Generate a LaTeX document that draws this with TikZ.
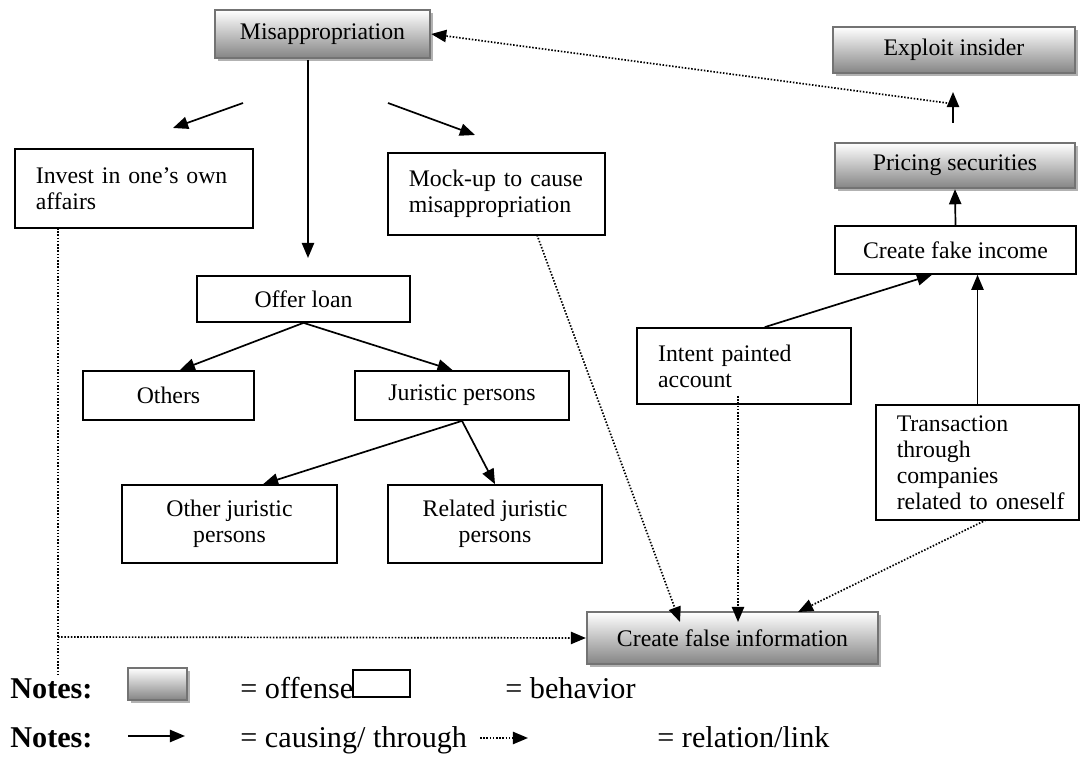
\documentclass[tikz,border=0pt]{standalone}
\usepackage{fontspec}
\setmainfont{Liberation Serif}
\usetikzlibrary{arrows.meta, shadows}

\begin{document}
\begin{tikzpicture}[x=0.53pt, y=-0.53pt,
  every node/.style={font=\fontsize{12.6}{13.8}\selectfont, inner sep=0pt},
  box/.style={draw=black, line width=0.9pt, fill=white},
  offense/.style={draw=black!55, line width=1.2pt, top color=white, bottom color=black!48,
    drop shadow={shadow xshift=1.6pt, shadow yshift=-1.6pt, fill=black!30, opacity=1}},
  cause/.style={-{Triangle[length=8pt,width=6.5pt]}, line width=0.9pt},
  link/.style={-{Triangle[length=8pt,width=6.5pt]}, line width=0.9pt, dash pattern=on 0.8pt off 0.9pt},
  legend/.style={anchor=base west, font=\fontsize{16}{19}\selectfont}]
\useasboundingbox (0,0) rectangle (1081,760);

% offenses
\node[offense, minimum width=114pt, minimum height=25.4pt] (mis) at (322.5,34) {Misappropriation};
\node[offense, minimum width=128.3pt, minimum height=24.4pt] (exploit) at (954,50) {Exploit insider};
\node[offense, minimum width=127.2pt, minimum height=23.9pt] (pricing) at (955,165.5) {Pricing securities};
\node[offense, minimum width=154.2pt, minimum height=27.6pt] (false) at (732.5,638) {Create false information};

% behaviors
\node[box, minimum width=126.1pt, minimum height=41.9pt, text width=104pt, align=left] (invest) at (134,188.5) {Invest in one's own\\affairs};
\node[box, minimum width=115pt, minimum height=43.5pt, text width=93pt, align=left] (mock) at (496.5,194) {Mock-up to cause\\misappropriation};
\node[box, minimum width=112.9pt, minimum height=24.4pt] (offer) at (303.5,299) {Offer loan};
\node[box, minimum width=90.6pt, minimum height=26pt] (others) at (168.5,395.5) {Others};
\node[box, minimum width=113.4pt, minimum height=26pt] (juristic) at (462,395.5) {Juristic persons};
\node[box, minimum width=114pt, minimum height=41.3pt, align=center] (otherjur) at (229.5,524) {Other juristic\\persons};
\node[box, minimum width=113.4pt, minimum height=41.3pt, align=center] (related) at (495,524) {Related juristic\\persons};
\node[box, minimum width=127.7pt, minimum height=25.4pt] (fake) at (955.5,250) {Create fake income};
\node[box, minimum width=113.4pt, minimum height=40.3pt, text width=91pt, align=left] (intent) at (744,366) {Intent painted\\account};
\node[box, minimum width=107.6pt, minimum height=61pt, text width=85.6pt, align=left] (trans) at (977.5,462.5) {Transaction\\through\\companies\\\mbox{related to oneself}};

% free ends
\coordinate (misA) at (243,103);
\coordinate (investTop) at (173,128);
\coordinate (misB) at (308,60);
\coordinate (offerTop) at (308,258);
\coordinate (misC) at (388,103);
\coordinate (mockTop) at (475,135);
\coordinate (pricingTop) at (953,123);
\coordinate (exploitLow) at (953,92);
\coordinate (linkStart) at (947,103);
\coordinate (investLow) at (58,228);
\coordinate (investEnd) at (58,677);
\coordinate (investMid) at (58,637);
\coordinate (mockLow) at (537,235);
\coordinate (falseA) at (680,622);
\coordinate (intentLow) at (738,396);
\coordinate (falseB) at (738,622);
\coordinate (transLow) at (986,520);
\coordinate (falseC) at (798,612);

% causing / through
\draw[cause] (misA) -- (investTop);
\draw[cause] (misB) -- (offerTop);
\draw[cause] (misC) -- (mockTop);
\draw[cause] (offer.south) -- ([xshift=6pt]others.north);
\draw[cause] (offer.south) -- ([xshift=-5pt]juristic.north);
\draw[cause] (juristic.south) -- ([xshift=17.8pt]otherjur.north);
\draw[cause] (juristic.south) -- (related.north);
\draw[cause] ([xshift=11pt]intent.north) -- ([xshift=-12.5pt]fake.south);
\draw[cause] (trans.north) -- (trans.north |- fake.south);
\draw[cause] (fake.north) -- (pricing.south);
\draw[cause] (pricingTop) -- (exploitLow);

% relation / link
\draw[link] (linkStart) -- (mis.east);
\draw[link, -] (investLow) -- (investEnd);
\draw[link] (investMid) -- (false.west);
\draw[link] (mockLow) -- (falseA);
\draw[link] (intentLow) -- (falseB);
\draw[link] (transLow) -- (falseC);

% notes
\node[legend, font=\bfseries\fontsize{16}{19}\selectfont] (notesA) at (10,699) {Notes:};
\node[offense, minimum width=31.3pt, minimum height=17pt] (keyOffense) at (157.5,684) {};
\node[legend] (offenseText) at (240,699) {= offense};
\node[box, minimum width=30.2pt, minimum height=14.3pt] (keyBehavior) at (381.5,683.5) {};
\node[legend] (behaviorText) at (505,699) {= behavior};
\node[legend, font=\bfseries\fontsize{16}{19}\selectfont] (notesB) at (10,748) {Notes:};
\coordinate (causeA) at (128,736);
\coordinate (causeB) at (185,736);
\draw[cause] (causeA) -- (causeB);
\node[legend] (causeText) at (240,748) {= causing/ through};
\coordinate (linkA) at (480,738);
\coordinate (linkB) at (528,738);
\draw[link] (linkA) -- (linkB);
\node[legend] (linkText) at (657,748) {= relation/link};
\end{tikzpicture}
\end{document}
